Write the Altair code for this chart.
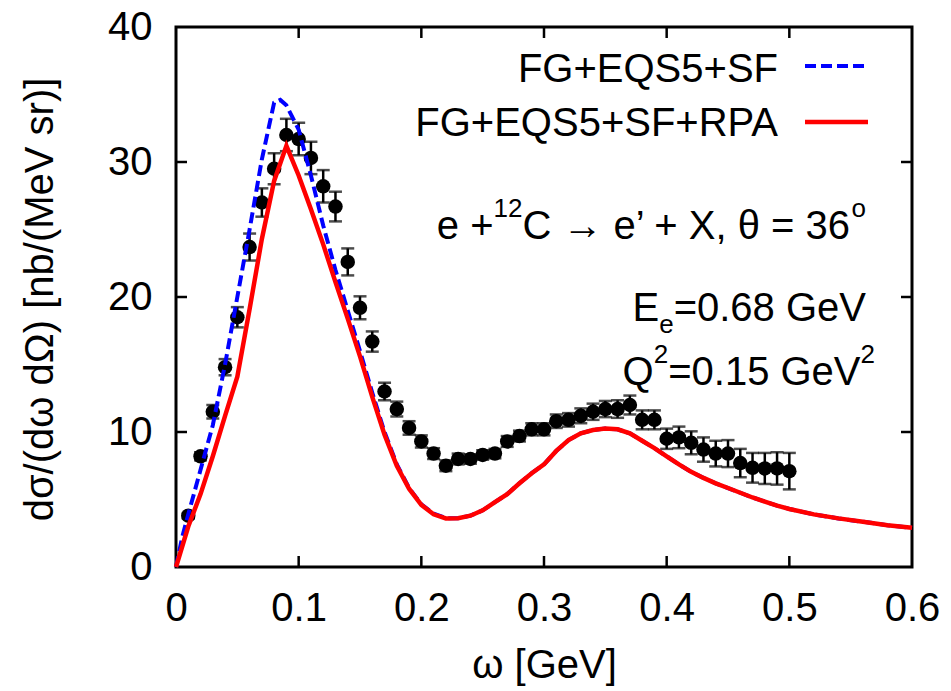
import altair as alt
import pandas as pd

# ---------------- data ----------------
omega_exp = [0.01, 0.02, 0.03, 0.04, 0.05, 0.06, 0.07, 0.08, 0.09, 0.10,
             0.11, 0.12, 0.13, 0.14, 0.15, 0.16, 0.17, 0.18, 0.19, 0.20,
             0.21, 0.22, 0.23, 0.24, 0.25, 0.26, 0.27, 0.28, 0.29, 0.30,
             0.31, 0.32, 0.33, 0.34, 0.35, 0.36, 0.37, 0.38, 0.39, 0.40,
             0.41, 0.42, 0.43, 0.44, 0.45, 0.46, 0.47, 0.48, 0.49, 0.50]
sigma_exp = [3.8, 8.2, 11.5, 14.8, 18.5, 23.7, 27.0, 29.5, 32.0, 31.7,
             30.3, 28.2, 26.7, 22.6, 19.2, 16.7, 13.0, 11.7, 10.3, 9.3,
             8.4, 7.5, 8.0, 8.0, 8.3, 8.4, 9.3, 9.7, 10.2, 10.2,
             10.8, 10.9, 11.2, 11.5, 11.7, 11.7, 12.0, 10.9, 10.9, 9.5,
             9.6, 9.2, 8.7, 8.4, 8.4, 7.7, 7.35, 7.3, 7.3, 7.1]
error_exp = [0.2, 0.3, 0.5, 0.6, 0.75, 1.0, 1.05, 1.15, 1.2, 1.2,
             1.2, 1.2, 1.1, 1.0, 0.85, 0.75, 0.65, 0.55, 0.5, 0.45,
             0.4, 0.4, 0.4, 0.35, 0.35, 0.35, 0.4, 0.4, 0.45, 0.45,
             0.5, 0.5, 0.55, 0.6, 0.6, 0.65, 0.7, 0.7, 0.7, 0.75,
             0.8, 0.85, 0.9, 0.95, 1.0, 1.05, 1.1, 1.15, 1.2, 1.35]

omega_sf = [0.0, 0.005, 0.01, 0.02, 0.03, 0.04, 0.05, 0.06, 0.07, 0.08,
            0.085, 0.09, 0.10, 0.11, 0.12, 0.13, 0.14, 0.15, 0.16, 0.17,
            0.18, 0.19, 0.20, 0.21, 0.22, 0.23, 0.24, 0.25, 0.26, 0.27,
            0.28, 0.29, 0.30, 0.31, 0.32, 0.33, 0.34, 0.35, 0.36, 0.37,
            0.38, 0.39, 0.40, 0.41, 0.42, 0.43, 0.44, 0.45, 0.46, 0.47,
            0.48, 0.49, 0.50, 0.52, 0.54, 0.56, 0.58, 0.60]
sigma_sf = [0.0, 2.2, 3.9, 7.2, 10.5, 15.0, 20.0, 25.0, 30.2, 34.4,
            34.6, 34.2, 32.4, 29.0, 25.3, 22.0, 19.0, 16.0, 12.9, 10.0,
            7.6, 5.85, 4.65, 3.95, 3.62, 3.62, 3.8, 4.2, 4.8, 5.4,
            6.2, 6.95, 7.6, 8.6, 9.4, 9.9, 10.15, 10.25, 10.2, 9.9,
            9.35, 8.8, 8.2, 7.6, 7.05, 6.6, 6.2, 5.85, 5.5, 5.15,
            4.85, 4.55, 4.3, 3.9, 3.6, 3.35, 3.1, 2.9]

omega_rpa = [0.0, 0.01, 0.02, 0.03, 0.04, 0.05, 0.06, 0.07, 0.08, 0.09,
             0.10, 0.11, 0.12, 0.13, 0.14, 0.15, 0.16, 0.17, 0.18, 0.19,
             0.20, 0.21, 0.22, 0.23, 0.24, 0.25, 0.26, 0.27, 0.28, 0.29,
             0.30, 0.31, 0.32, 0.33, 0.34, 0.35, 0.36, 0.37, 0.38, 0.39,
             0.40, 0.41, 0.42, 0.43, 0.44, 0.45, 0.46, 0.47, 0.48, 0.49,
             0.50, 0.52, 0.54, 0.56, 0.58, 0.60]
sigma_rpa = [0.0, 3.0, 5.4, 8.2, 11.2, 14.1, 19.1, 24.3, 28.6, 31.2,
             29.0, 26.5, 23.9, 21.1, 18.4, 15.6, 12.6, 9.8, 7.5, 5.8,
             4.6, 3.9, 3.6, 3.62, 3.8, 4.2, 4.8, 5.4, 6.2, 6.95,
             7.6, 8.6, 9.4, 9.9, 10.15, 10.25, 10.2, 9.9, 9.35, 8.8,
             8.2, 7.6, 7.05, 6.6, 6.2, 5.85, 5.5, 5.15, 4.85, 4.55,
             4.3, 3.9, 3.6, 3.35, 3.1, 2.9]

x_label_values = [0.0, 0.1, 0.2, 0.3, 0.4, 0.5, 0.6]
y_label_values = [0, 10, 20, 30, 40]
x_inner_ticks = [0.1, 0.2, 0.3, 0.4, 0.5]
y_inner_ticks = [10, 20, 30]

legend_labels = ["FG+EQS5+SF", "FG+EQS5+SF+RPA"]

# ---------------- layout / style ----------------
W, H = 736, 540
FONT = "Liberation Sans"
FS = 40
SS = 26
TICK = 11
BLUE = "#0000ff"
RED = "#ff0000"

xscale = alt.Scale(domain=[0, 0.6], nice=False, zero=False)
yscale = alt.Scale(domain=[0, 40], nice=False, zero=False)
xaxis = alt.Axis(values=x_label_values, format=".1~f", title="ω [GeV]",
                 labelPadding=41, labelBaseline="middle",
                 titleY=110, titleBaseline="alphabetic", labelFlush=False)
yaxis = alt.Axis(values=y_label_values, title="dσ/(dω dΩ) [nb/(MeV sr)]",
                 labelPadding=24, labelBaseline="middle",
                 titleX=-124, titleY=272, titleBaseline="alphabetic",
                 labelFlush=False)


def X(field):
    return alt.X(field, type="quantitative", scale=xscale, axis=xaxis)


def Y(field):
    return alt.Y(field, type="quantitative", scale=yscale, axis=yaxis)


df_exp = pd.DataFrame({
    "omega": omega_exp,
    "sigma": sigma_exp,
    "lo": [s - e for s, e in zip(sigma_exp, error_exp)],
    "hi": [s + e for s, e in zip(sigma_exp, error_exp)],
})
df_sf = pd.DataFrame({"omega": omega_sf, "sigma": sigma_sf})
df_rpa = pd.DataFrame({"omega": omega_rpa, "sigma": sigma_rpa})
df_xt = pd.DataFrame({"omega": x_inner_ticks})
df_yt = pd.DataFrame({"sigma": y_inner_ticks})

layers = []

# inner ticks (gnuplot style, on all four sides)
layers.append(alt.Chart(df_xt).mark_rule(color="black", strokeWidth=2.5).encode(
    x=X("omega"), y=alt.value(H), y2=alt.value(H - TICK)))
layers.append(alt.Chart(df_xt).mark_rule(color="black", strokeWidth=2.5).encode(
    x=X("omega"), y=alt.value(0), y2=alt.value(TICK)))
layers.append(alt.Chart(df_yt).mark_rule(color="black", strokeWidth=2.5).encode(
    y=Y("sigma"), x=alt.value(0), x2=alt.value(TICK)))
layers.append(alt.Chart(df_yt).mark_rule(color="black", strokeWidth=2.5).encode(
    y=Y("sigma"), x=alt.value(W), x2=alt.value(W - TICK)))

# error bars
base = alt.Chart(df_exp)
layers.append(base.mark_rule(color="black", strokeWidth=2.5).encode(
    x=X("omega"), y=Y("lo"), y2="hi"))
layers.append(base.mark_tick(color="black", orient="horizontal", size=13, thickness=2.5).encode(
    x=X("omega"), y=Y("lo")))
layers.append(base.mark_tick(color="black", orient="horizontal", size=13, thickness=2.5).encode(
    x=X("omega"), y=Y("hi")))
layers.append(base.mark_point(filled=True, shape="circle", size=210, color="black", opacity=1).encode(
    x=X("omega"), y=Y("sigma")))

# theory curves
layers.append(alt.Chart(df_sf).mark_line(color=BLUE, strokeWidth=4, strokeDash=[11, 5]).encode(
    x=X("omega"), y=Y("sigma")))
layers.append(alt.Chart(df_rpa).mark_line(color=RED, strokeWidth=4.5).encode(
    x=X("omega"), y=Y("sigma")))


def text_layer(s, x, y, size=FS, align="left", font=FONT):
    return alt.Chart(pd.DataFrame({"label": [s]})).mark_text(
        font=font, fontSize=size, color="black", align=align, baseline="alphabetic"
    ).encode(x=alt.value(x), y=alt.value(y), text="label:N")


def rule_layer(x1, x2, y, color, width, dash=None):
    kw = dict(color=color, strokeWidth=width)
    if dash:
        kw["strokeDash"] = dash
    return alt.Chart(pd.DataFrame({"k": [0]})).mark_rule(**kw).encode(
        x=alt.value(x1), x2=alt.value(x2), y=alt.value(y))


# legend
layers.append(text_layer(legend_labels[0], 602, 55, align="right"))
layers.append(text_layer(legend_labels[1], 602, 109, align="right"))
layers.append(rule_layer(629, 692, 39, BLUE, 4, [11, 5]))
layers.append(rule_layer(629, 692, 95, RED, 4.5))

# Arial / Liberation Sans advance widths (em) for chaining text pieces
AW = {" ": .278, "+": .584, "e": .556, "C": .722, "→": 1.0, "’": .222, "X": .667,
      ",": .278, "θ": .556, "=": .584, ".": .278, "G": .778, "V": .667, "E": .667,
      "Q": .778, "o": .556, "0": .556, "1": .556, "2": .556, "3": .556, "5": .556,
      "6": .556, "8": .556}


def tw(s, size):
    return sum(AW.get(c, .556) for c in s) * size


def chained(pieces, right, base_y):
    total = sum(tw(s, sz) for s, sz, _ in pieces)
    x = right - total
    out = []
    for s, sz, dy in pieces:
        out.append(text_layer(s, x, base_y + dy, size=sz))
        x += tw(s, sz)
    return out


layers += chained([("e +", FS, 0), ("12", SS, -22),
                   ("C → e’ + X, θ = 36", FS, 0), ("o", SS, -22)], 690, 212)
layers += chained([("E", FS, 0), ("e", SS, 12), ("=0.68 GeV", FS, 0)], 690, 294)
layers += chained([("Q", FS, 0), ("2", SS, -22), ("=0.15 GeV", FS, 0), ("2", SS, -22)], 699, 358)

chart = alt.layer(*layers).properties(
    width=W, height=H,
    padding={"left": 176, "top": 27, "right": 951 - 176 - W, "bottom": 691 - 27 - H},
    autosize=alt.AutoSizeParams(type="none"),
    background="white",
).configure_view(
    stroke="black", strokeWidth=3
).configure_axis(
    grid=False, domain=False, ticks=False, tickSize=0,
    labelFont=FONT, labelFontSize=FS, labelColor="black",
    titleFont=FONT, titleFontSize=FS, titleFontWeight="normal", titleColor="black",
)

chart.save("out.html", embed_options={"renderer": "svg", "actions": False})
